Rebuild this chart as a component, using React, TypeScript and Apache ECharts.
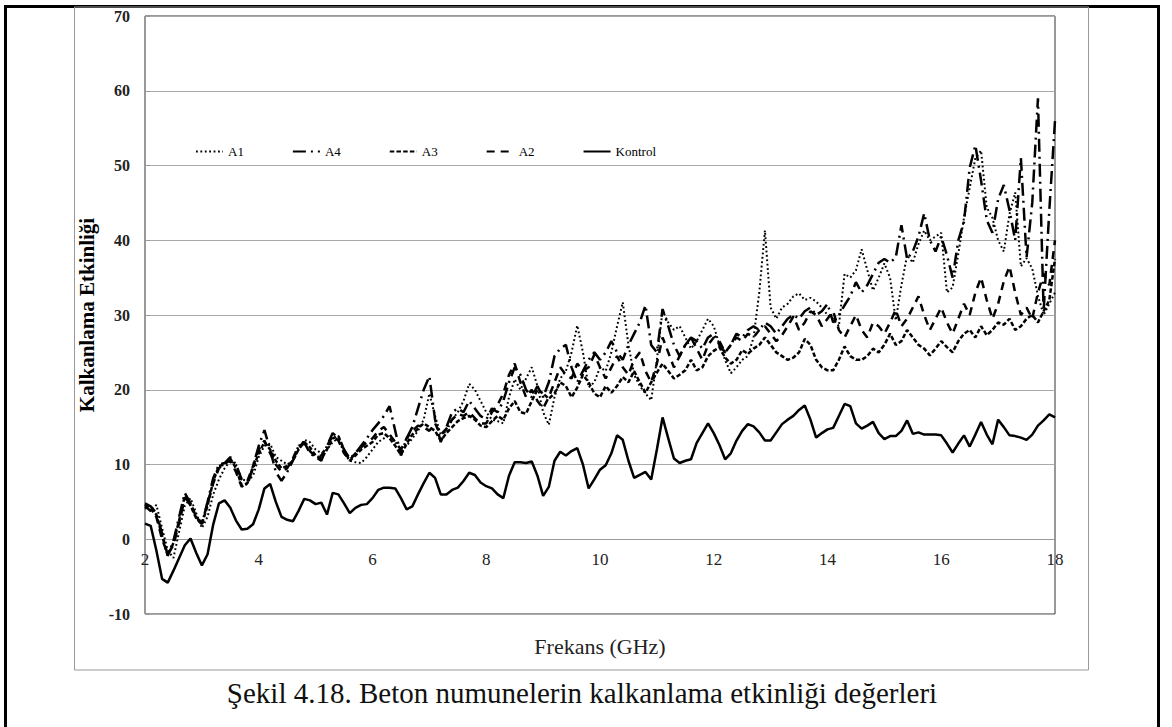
import React, { useEffect, useRef } from "react";
import * as echarts from "echarts";

const FONT = "'Liberation Serif', 'Times New Roman', serif";

const freq = [
  2, 2.1, 2.2, 2.3, 2.4, 2.5, 2.6, 2.7, 2.8, 2.9,
  3, 3.1, 3.2, 3.3, 3.4, 3.5, 3.6, 3.7, 3.8, 3.9,
  4, 4.1, 4.2, 4.3, 4.4, 4.5, 4.6, 4.7, 4.8, 4.9,
  5, 5.1, 5.2, 5.3, 5.4, 5.5, 5.6, 5.7, 5.8, 5.9,
  6, 6.1, 6.2, 6.3, 6.4, 6.5, 6.6, 6.7, 6.8, 6.9,
  7, 7.1, 7.2, 7.3, 7.4, 7.5, 7.6, 7.7, 7.8, 7.9,
  8, 8.1, 8.2, 8.3, 8.4, 8.5, 8.6, 8.7, 8.8, 8.9,
  9, 9.1, 9.2, 9.3, 9.4, 9.5, 9.6, 9.7, 9.8, 9.9,
  10, 10.1, 10.2, 10.3, 10.4, 10.5, 10.6, 10.7, 10.8, 10.9,
  11, 11.1, 11.2, 11.3, 11.4, 11.5, 11.6, 11.7, 11.8, 11.9,
  12, 12.1, 12.2, 12.3, 12.4, 12.5, 12.6, 12.7, 12.8, 12.9,
  13, 13.1, 13.2, 13.3, 13.4, 13.5, 13.6, 13.7, 13.8, 13.9,
  14, 14.1, 14.2, 14.3, 14.4, 14.5, 14.6, 14.7, 14.8, 14.9,
  15, 15.1, 15.2, 15.3, 15.4, 15.5, 15.6, 15.7, 15.8, 15.9,
  16, 16.1, 16.2, 16.3, 16.4, 16.5, 16.6, 16.7, 16.8, 16.9,
  17, 17.1, 17.2, 17.3, 17.4, 17.5, 17.6, 17.7, 17.8, 17.9,
  18,
];

const A1 = [
  4.2, 3.8, 4.6, 1.5, -1.5, -2.5, 1.0, 4.5, 5.5, 3.5,
  1.5, 3.0, 6.0, 8.0, 9.5, 10.5, 10.0, 8.0, 7.8, 8.5,
  11.0, 12.5, 12.8, 11.0, 10.5, 10.0, 10.5, 12.0, 13.3, 13.0,
  12.0, 11.5, 12.0, 13.0, 13.5, 11.5, 10.5, 10.3, 10.2, 11.0,
  12.0, 13.0, 13.5, 14.0, 13.0, 12.0, 12.5, 13.5, 14.5, 16.0,
  19.5, 16.5, 14.0, 14.5, 16.0, 17.0, 18.5, 20.8, 20.0, 18.5,
  17.0, 16.0, 15.8, 15.5, 19.0, 21.4, 20.0, 21.5, 23.0, 20.5,
  17.0, 15.3, 19.0, 21.5, 22.5, 25.0, 28.6, 25.0, 20.3, 21.0,
  23.0, 22.5, 25.0, 28.5, 31.7, 26.0, 22.0, 20.5, 19.5, 18.6,
  24.0, 30.6, 29.0, 28.0, 28.5, 27.0, 25.5, 26.5, 28.0, 29.5,
  28.5, 26.0, 24.0, 22.2, 23.0, 24.0, 24.5, 27.0, 33.0, 41.3,
  31.0, 29.5, 31.0, 31.5, 32.5, 32.9, 32.0, 32.3, 31.8, 31.0,
  30.0, 29.5, 28.5, 35.5, 35.0, 36.0, 38.8, 36.0, 33.3, 35.0,
  36.9, 35.0, 29.3, 34.0, 38.0, 37.0, 39.5, 41.3, 40.0, 40.5,
  41.0, 33.0, 33.7, 38.2, 43.0, 47.0, 51.0, 52.0, 44.4, 43.0,
  40.0, 38.5, 43.5, 46.4, 36.5, 37.6, 36.2, 32.6, 30.0, 31.5,
  33.0,
];

const A4 = [
  4.8, 4.4, 3.5, 0.8, -2.2, -0.2, 3.0, 6.2, 4.8, 3.0,
  2.0, 5.0, 8.2, 10.0, 10.2, 11.0, 10.0, 8.0, 7.2, 9.8,
  12.5, 14.6, 12.0, 9.0, 7.8, 9.0, 10.5, 12.5, 13.0, 11.5,
  11.0, 10.5, 12.5, 14.2, 13.5, 12.0, 10.8, 11.5, 12.5, 13.5,
  14.6, 15.5, 16.5, 17.8, 14.5, 11.2, 13.5, 15.0, 17.5, 20.0,
  21.8, 16.0, 13.0, 15.0, 17.0, 17.5, 17.0, 18.5, 17.5, 16.5,
  16.0, 17.5, 17.0, 18.5, 21.0, 23.0, 22.0, 20.0, 19.0, 20.5,
  19.0, 21.0, 24.5, 25.5, 26.0, 23.0, 21.0, 22.5, 24.0, 25.0,
  24.0, 25.0, 26.5, 25.0, 24.0, 26.0, 27.5, 29.0, 31.3, 26.0,
  25.0, 30.8, 28.5, 26.0, 24.5, 26.0, 27.0, 26.5, 25.5, 27.0,
  27.5, 26.0, 25.0, 26.0, 27.5, 27.0, 28.0, 28.5, 28.0, 29.0,
  28.5, 27.5, 28.5, 29.5, 30.0, 29.5, 30.5, 31.0, 30.0, 30.5,
  31.5, 29.0, 30.0, 31.3, 32.5, 34.4, 33.0, 34.0, 35.5, 37.0,
  37.5, 37.0, 37.7, 42.0, 37.5, 38.5, 40.5, 43.6, 40.0, 38.5,
  40.5, 38.0, 35.0, 40.0, 42.5, 49.7, 52.7, 48.0, 42.7, 41.0,
  45.5, 47.4, 44.0, 40.0, 51.0, 37.7, 45.0, 59.0, 30.5, 44.0,
  56.0,
];

const A3 = [
  4.6, 4.0, 3.3, 0.5, -2.2, -0.5, 2.5, 5.8, 4.5, 2.8,
  2.0, 4.5, 7.8, 9.8, 10.0, 10.8, 9.5, 7.2, 7.5, 9.5,
  11.5, 13.0, 12.0, 10.5, 9.5, 9.8, 10.5, 12.0, 13.0, 12.3,
  11.2, 10.8, 12.0, 13.5, 13.8, 12.0, 10.5, 11.2, 12.0, 12.5,
  13.0, 14.0, 14.2, 13.5, 12.5, 11.3, 12.8, 14.0, 14.8, 15.5,
  15.0, 14.5, 13.2, 14.2, 15.0, 15.8, 16.2, 16.5, 16.0, 15.2,
  15.0, 15.8, 16.5, 16.0, 17.5, 18.5, 17.0, 16.8, 18.5, 20.0,
  19.5, 18.8, 19.5, 21.0, 20.5, 19.0, 20.3, 22.0, 21.0, 19.5,
  19.0, 20.5, 19.6, 20.5, 21.7, 21.0, 22.5, 21.0, 19.6, 21.0,
  22.3, 23.5, 22.5, 21.5, 22.0, 22.6, 24.0, 22.6, 23.0, 24.5,
  25.2, 25.7, 24.3, 23.5, 24.0, 25.3, 24.8, 25.5, 26.0, 27.0,
  26.0, 25.0, 24.5, 24.0, 24.3, 25.0, 26.8, 26.0, 24.0, 23.0,
  22.6, 22.6, 24.0, 25.8, 24.5, 24.0, 24.0, 24.5, 25.5, 25.0,
  26.0, 27.5, 26.0, 26.5, 28.0, 27.0, 26.0, 25.5, 24.6, 25.5,
  26.5, 25.7, 25.0, 26.5, 27.5, 28.0, 27.0, 28.5, 27.3, 28.0,
  29.0, 28.7, 29.5, 28.0, 28.5, 29.5, 30.0, 29.0, 30.5, 32.0,
  37.5,
];

const A2 = [
  4.4, 3.8, 3.0, 0.0, -2.0, -0.8, 2.2, 5.5, 4.8, 3.0,
  2.2, 4.8, 7.5, 9.5, 10.2, 10.5, 9.0, 7.0, 7.8, 9.8,
  12.0, 13.2, 11.5, 10.0, 9.0, 9.5, 10.8, 12.5, 12.8, 11.8,
  11.0, 11.2, 12.5, 13.8, 13.2, 11.5, 10.6, 11.5, 12.3, 13.0,
  13.5, 14.5, 15.0, 14.0, 13.0, 12.0, 13.5, 14.5, 15.2, 15.0,
  14.5, 15.5, 14.0, 14.8, 16.0, 16.8, 16.5, 17.0, 16.2, 15.5,
  15.5, 17.0, 18.0, 19.5, 22.0, 23.5, 21.0, 19.0, 20.0, 18.5,
  17.5, 19.0, 21.0, 23.0, 22.0, 21.5, 23.5, 22.5, 23.0, 24.7,
  23.0, 21.5, 23.0, 24.5, 23.0, 22.0, 24.0, 25.0, 22.5, 21.0,
  23.5, 27.0, 25.0, 23.0, 24.5, 26.0, 27.0, 25.5, 24.0, 26.0,
  27.0, 26.5, 25.0, 26.0, 27.0, 26.5, 27.5, 27.0, 28.0, 28.5,
  27.5, 26.5, 27.3, 28.5, 29.8, 28.0, 29.0, 30.5, 30.0, 28.5,
  29.5, 30.5, 28.0, 27.0, 28.5, 30.0, 28.0, 27.0, 29.0, 28.5,
  27.5, 29.0, 30.7, 28.5, 29.5, 31.0, 32.5, 30.0, 28.0, 29.5,
  31.0, 29.0, 27.5, 29.5, 31.5, 30.0, 33.0, 35.0, 32.0, 29.5,
  31.5, 34.5, 36.5, 33.0, 30.0, 31.0, 29.5, 33.0, 35.5, 34.0,
  40.0,
];

const Kontrol = [
  2.1, 1.8, -1.5, -5.3, -5.8, -4.2, -2.5, -0.8, 0.1, -1.8,
  -3.5, -2.0, 2.0, 4.8, 5.2, 4.2, 2.5, 1.3, 1.4, 2.0,
  4.0, 6.8, 7.4, 5.0, 3.0, 2.6, 2.4, 3.8, 5.4, 5.2,
  4.7, 4.9, 3.3, 6.2, 6.0, 4.8, 3.5, 4.2, 4.6, 4.7,
  5.5, 6.6, 6.9, 6.9, 6.8, 5.5, 4.0, 4.4, 6.0, 7.5,
  8.9, 8.2, 6.0, 6.0, 6.6, 6.9, 7.8, 8.9, 8.6, 7.6,
  7.1, 6.8, 6.0, 5.5, 8.5, 10.3, 10.3, 10.2, 10.4, 8.5,
  5.8, 7.0, 10.5, 11.7, 11.2, 11.8, 12.2, 10.0, 6.8, 8.0,
  9.3, 9.9, 11.5, 13.9, 13.3, 10.5, 8.2, 8.6, 9.0, 8.0,
  12.0, 16.3, 13.5, 10.8, 10.2, 10.5, 10.7, 12.9, 14.2, 15.5,
  14.2, 12.6, 10.7, 11.5, 13.2, 14.5, 15.4, 15.1, 14.3, 13.2,
  13.2, 14.3, 15.4, 16.0, 16.5, 17.3, 17.9, 16.0, 13.6, 14.2,
  14.7, 14.9, 16.5, 18.1, 17.8, 15.5, 14.8, 15.2, 15.7, 14.2,
  13.4, 13.8, 13.8, 14.5, 15.9, 14.1, 14.3, 14.0, 14.0, 14.0,
  13.9, 12.8, 11.6, 12.8, 13.9, 12.4, 14.0, 15.7, 14.0, 12.7,
  16.0, 15.0, 13.9, 13.8, 13.6, 13.3, 14.0, 15.2, 15.9, 16.7,
  16.3,
];

const seriesNames = ["A1", "A4", "A3", "A2", "Kontrol"];
const seriesValues = [A1, A4, A3, A2, Kontrol];
const seriesDash: (number[] | "solid")[] = [[1.8, 2.6], [13, 5, 2, 5], [4.5, 2.2], [8, 6], "solid"];
const seriesWidth = [2, 2.5, 2.5, 2.5, 2.5];

const yTicks = { min: -10, max: 70, interval: 10 };
const xTicks = { min: 2, max: 18, interval: 2 };

export default function App() {
  const ref = useRef<HTMLDivElement>(null);
  useEffect(() => {
    document.body.style.margin = "0";
    if (!ref.current) return;
    const chart = echarts.init(ref.current, undefined, { renderer: "svg" });
    const series = seriesNames.map((name, k) => ({
      name,
      type: "line",
      data: freq.map((f, i) => [f, seriesValues[k][i]]),
      showSymbol: false,
      symbol: "none",
      lineStyle: { color: "#000", width: seriesWidth[k], type: seriesDash[k] },
      itemStyle: { color: "#000" },
      z: 3,
    }));
    chart.setOption({
      animation: false,
      backgroundColor: "#fff",
      grid: {
        left: 145,
        right: 117,
        top: 16,
        bottom: 113,
        show: true,
        borderColor: "#333",
        borderWidth: 1,
        backgroundColor: "transparent",
      },
      legend: {
        data: seriesNames,
        left: 190,
        top: 140,
        itemWidth: 27,
        itemHeight: 14,
        itemGap: 48,
        itemStyle: { opacity: 0, borderWidth: 0 },
        textStyle: { fontFamily: FONT, fontSize: 13, color: "#000" },
      },
      xAxis: {
        type: "value",
        min: xTicks.min,
        max: xTicks.max,
        interval: xTicks.interval,
        offset: -75,
        axisLine: { show: true, onZero: false, lineStyle: { color: "#999", width: 1 } },
        axisTick: { show: false },
        splitLine: { show: false },
        axisLabel: {
          margin: 12,
          fontFamily: FONT,
          fontSize: 17,
          color: "#222",
          showMinLabel: true,
          showMaxLabel: true,
        },
      },
      yAxis: {
        type: "value",
        min: yTicks.min,
        max: yTicks.max,
        interval: yTicks.interval,
        name: "Kalkanlama Etkinliği",
        nameLocation: "middle",
        nameGap: 42,
        nameTextStyle: { fontFamily: FONT, fontSize: 21, fontWeight: "bold", color: "#000" },
        axisLine: { show: true, lineStyle: { color: "#999", width: 1 } },
        axisTick: { show: true, inside: true, length: 5, lineStyle: { color: "#999" } },
        splitLine: { show: true, lineStyle: { color: "#aaa", width: 1 } },
        axisLabel: {
          margin: 15,
          fontFamily: FONT,
          fontSize: 16,
          fontWeight: "bold",
          color: "#222",
        },
      },
      graphic: [
        {
          type: "rect",
          silent: true,
          z: 0,
          shape: { x: 5.5, y: 6.5, width: 1153, height: 800 },
          style: { fill: "none", stroke: "#000", lineWidth: 3 },
        },
        {
          type: "rect",
          silent: true,
          z: 0,
          shape: { x: 74.5, y: 7, width: 1014, height: 663 },
          style: { fill: "none", stroke: "#999", lineWidth: 1 },
        },
        {
          type: "text",
          x: 600,
          y: 646,
          style: {
            text: "Frekans (GHz)",
            fontFamily: FONT,
            fontSize: 22,
            fill: "#222",
            align: "center",
            verticalAlign: "middle",
          },
        },
        {
          type: "text",
          x: 582,
          y: 693,
          style: {
            text: "Şekil 4.18. Beton numunelerin kalkanlama etkinliği değerleri",
            fontFamily: FONT,
            fontSize: 29,
            fill: "#111",
            align: "center",
            verticalAlign: "middle",
          },
        },
      ],
      series,
    });
    return () => chart.dispose();
  }, []);
  return <div ref={ref} style={{ width: 1172, height: 727 }} />;
}
